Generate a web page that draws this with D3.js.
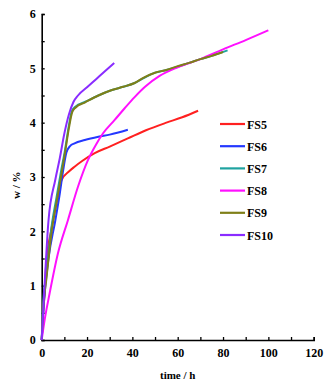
<!DOCTYPE html>
<html>
<head>
<meta charset="utf-8">
<script src="https://cdn.jsdelivr.net/npm/d3@7"></script>
<style>
  body { margin: 0; background: #fff; }
  svg text { font-family: "Liberation Serif", "DejaVu Serif", serif; font-weight: bold; }
</style>
</head>
<body>
<div id="chart"></div>
<script>
// series names and colours
const names = ['FS5', 'FS6', 'FS7', 'FS8', 'FS9', 'FS10'];
const colors = ['#ff2020', '#2438ff', '#1fa3a0', '#ff10ff', '#7f7f18', '#8a2cff'];

// time (h) and w (%) per series
const fs5T = [0, 0.6, 1.3, 2, 4.2, 7.2, 8.7, 12, 14.5, 18, 23.4, 30, 38, 46, 55, 62, 69];
const fs5W = [0, 0.5, 0.86, 1.41, 2.02, 2.64, 2.94, 3.1, 3.19, 3.3, 3.44, 3.56, 3.71, 3.86, 4.0, 4.1, 4.22];

const fs6T = [0, 1, 3, 6, 8, 9.5, 10.9, 12.5, 14.5, 19, 25, 30, 38];
const fs6W = [0, 0.7, 1.5, 2.2, 2.7, 3.13, 3.45, 3.57, 3.62, 3.68, 3.74, 3.78, 3.87];

const fs7T = [0, 0.7, 2, 4.4, 6.6, 8.5, 10.3, 12, 13.2, 15, 19, 25, 31, 36, 41, 45, 50, 55, 60, 65, 70, 75, 82];
const fs7W = [0, 0.7, 1.2, 2.1, 2.64, 3.1, 3.5, 3.95, 4.2, 4.3, 4.38, 4.5, 4.6, 4.66, 4.73, 4.82, 4.92, 4.97, 5.03, 5.1, 5.17, 5.23, 5.33];

const fs8T = [0, 1.3, 3.5, 7.2, 11.6, 16, 20.4, 24, 27, 32.2, 36.7, 41, 45.6, 52, 60, 70, 80, 90, 100];
const fs8W = [0, 0.37, 0.86, 1.6, 2.21, 2.82, 3.31, 3.6, 3.8, 4.05, 4.27, 4.47, 4.66, 4.86, 5.02, 5.17, 5.35, 5.52, 5.7];

const fs9T = [0, 0.7, 2, 4.4, 6.6, 8.5, 10.3, 12, 13.5, 15, 19, 25, 31, 36, 41, 45, 50, 55, 60, 65, 70, 75, 80];
const fs9W = [0, 0.6, 1.1, 2.0, 2.55, 3.0, 3.45, 3.9, 4.2, 4.28, 4.37, 4.5, 4.6, 4.66, 4.73, 4.83, 4.92, 4.97, 5.04, 5.1, 5.17, 5.23, 5.3];

const fs10T = [0, 1, 3, 6, 8, 10, 12, 14, 16, 20, 24, 28, 32];
const fs10W = [0, 0.8, 2.2, 2.95, 3.35, 3.8, 4.15, 4.38, 4.5, 4.65, 4.8, 4.95, 5.1];

const xTicks = [0, 20, 40, 60, 80, 100, 120];
const yTicks = [0, 1, 2, 3, 4, 5, 6];

const seriesT = [fs5T, fs6T, fs7T, fs8T, fs9T, fs10T];
const seriesW = [fs5W, fs6W, fs7W, fs8W, fs9W, fs10W];

const W = 325, H = 385;
const m = { l: 41.7, r: 11.3, t: 14, b: 45 };

const svg = d3.select('#chart').append('svg').attr('width', W).attr('height', H);

const x = d3.scaleLinear().domain([0, 120]).range([m.l, W - m.r]);
const y = d3.scaleLinear().domain([0, 6]).range([H - m.b, m.t]);

// axes (ticks pointing inward)
const xAxis = svg.append('g').attr('transform', `translate(0,${H - m.b})`)
  .call(d3.axisBottom(x).tickValues(d3.range(0, 121, 10)).tickSize(-3).tickPadding(8)
    .tickFormat(d => xTicks.includes(d) ? d : ''));
const yAxis = svg.append('g').attr('transform', `translate(${m.l},0)`)
  .call(d3.axisLeft(y).tickValues(d3.range(0, 6.01, 0.5)).tickSize(-3).tickPadding(6)
    .tickFormat(d => yTicks.includes(d) ? d : ''));

[xAxis, yAxis].forEach(g => {
  g.select('.domain').attr('stroke', '#000').attr('stroke-width', 1.6);
  g.selectAll('.tick line').attr('stroke', '#000').attr('stroke-width', 1.3);
  g.selectAll('.tick text').attr('fill', '#000').attr('font-size', 12)
    .attr('font-family', '"Liberation Serif", serif').attr('font-weight', 'bold');
});

// axis titles
svg.append('text').attr('x', x(60)).attr('y', 379).attr('text-anchor', 'middle')
  .attr('font-size', 11).text('time / h');
svg.append('text').attr('transform', `translate(20,${y(2.85)}) rotate(-90)`)
  .attr('text-anchor', 'middle').attr('font-size', 11).text('w / %');

// curves
const line = d3.line().x(d => x(d[0])).y(d => y(d[1])).curve(d3.curveMonotoneX);
names.forEach((n, i) => {
  const pts = seriesT[i].map((t, j) => [t, seriesW[i][j]]);
  svg.append('path').datum(pts)
    .attr('fill', 'none')
    .attr('stroke', colors[i])
    .attr('stroke-width', 2)
    .attr('d', line);
});

// legend
const lg = svg.append('g').attr('transform', 'translate(220,124)');
names.forEach((n, i) => {
  const g = lg.append('g').attr('transform', `translate(0,${i * 22.2})`);
  g.append('line').attr('x1', 0).attr('x2', 25).attr('y1', 0).attr('y2', 0)
    .attr('stroke', colors[i]).attr('stroke-width', 2.2);
  g.append('text').attr('x', 27).attr('y', 4.5).attr('font-size', 12).text(n);
});
</script>
</body>
</html>
